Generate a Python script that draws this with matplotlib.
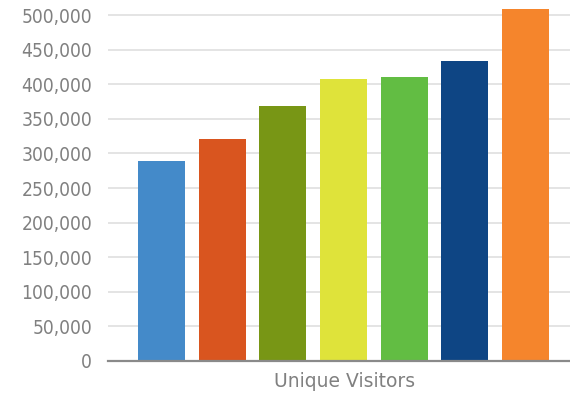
import matplotlib.pyplot as plt
from matplotlib.ticker import FuncFormatter, MultipleLocator

# ========== 数据 ==========
categories = ["A", "B", "C", "D", "E", "F", "G"]
visitors = [289000, 321000, 369000, 408000, 410000, 433000, 509000]
colors = ["#448ac9", "#d9551f", "#789615", "#dfe33a", "#62bd43", "#0e4584", "#f5852c"]
x_label = "Unique Visitors"

# ========== 绘图 ==========
fig = plt.figure(figsize=(5.7, 3.94), dpi=100)
ax = fig.add_axes([108 / 570, 33 / 394, 462 / 570, 361 / 394])

pos = list(range(len(categories)))
ax.bar(pos, visitors, width=0.775, color=colors, zorder=3)

ax.set_xlim(-0.88, 6.73)
ax.set_ylim(0, 521700)
ax.yaxis.set_major_locator(MultipleLocator(50000))
ax.yaxis.set_major_formatter(FuncFormatter(lambda v, _: f"{int(v):,}"))
ax.grid(axis="y", color="#e2e2e2", linewidth=1.3, zorder=0)

for s in ["top", "right", "left"]:
    ax.spines[s].set_visible(False)
ax.spines["bottom"].set_color("#8a8a8a")
ax.spines["bottom"].set_linewidth(1.6)
ax.spines["bottom"].set_zorder(4)

ax.set_xticks([])
ax.tick_params(axis="y", length=0, pad=11.5, labelcolor="#808080")
for lab in ax.get_yticklabels():
    lab.set_fontsize(13.8)
    lab.set_fontstretch("condensed")
ax.set_xlabel(x_label, fontsize=13.5, color="#808080")
ax.xaxis.set_label_coords(0.513, -0.03, transform=ax.transAxes)
ax.xaxis.label.set_va("top")

fig.savefig("out.png", dpi=100)
